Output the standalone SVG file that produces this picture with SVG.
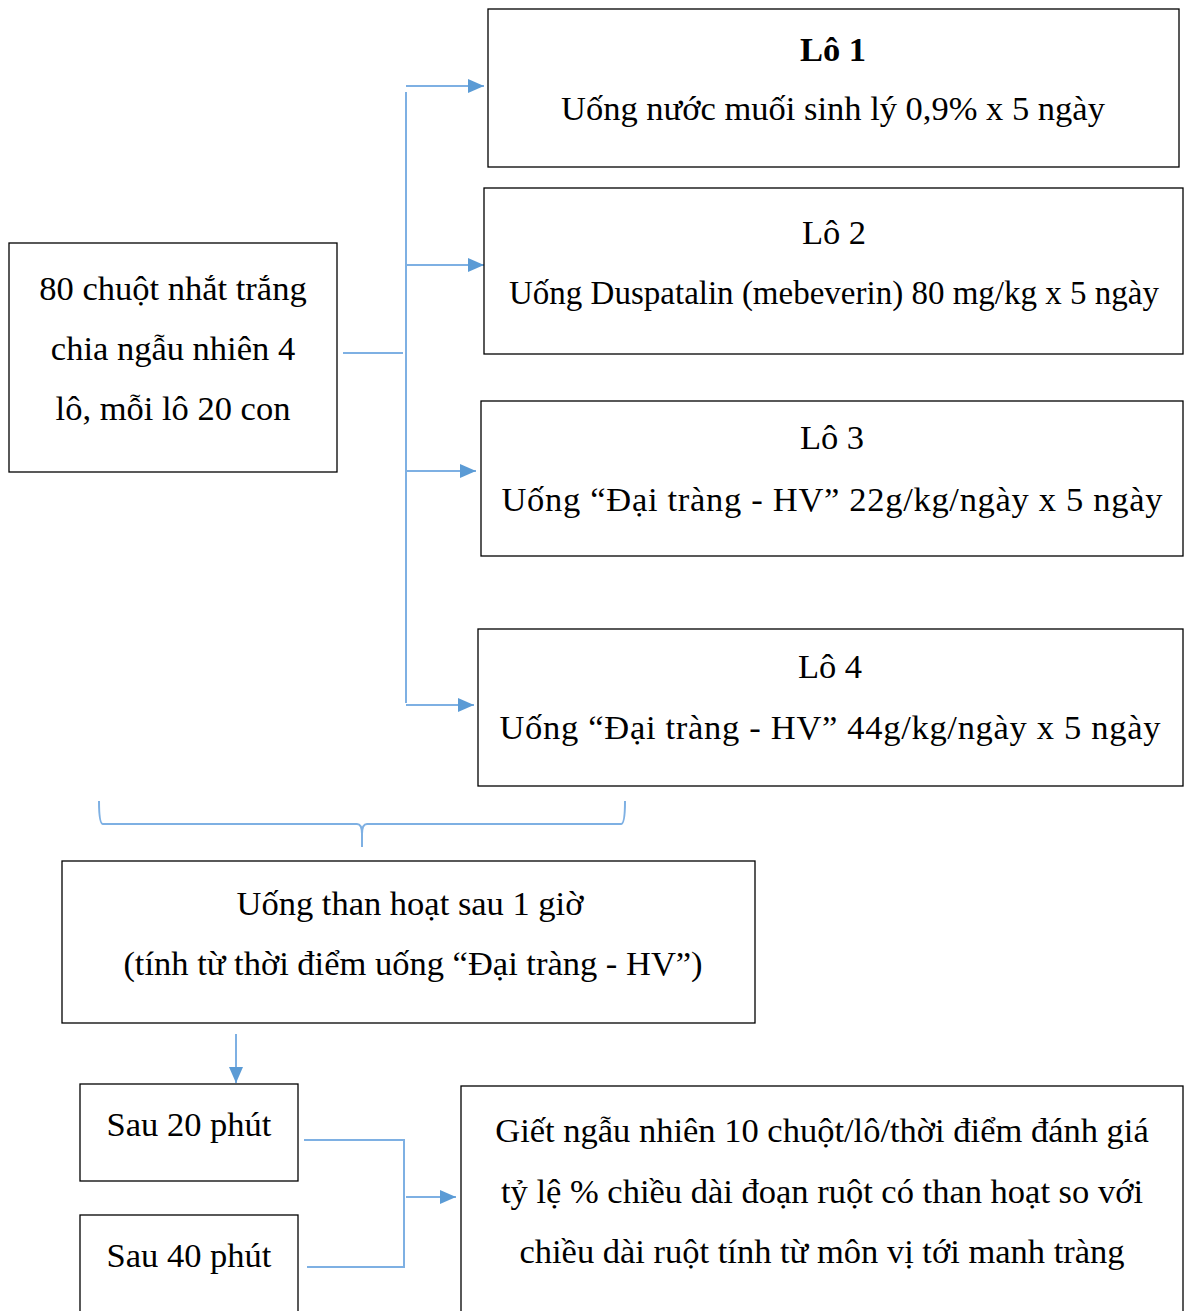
<svg xmlns="http://www.w3.org/2000/svg" width="1186" height="1311" viewBox="0 0 1186 1311">
<style>
.box{fill:#fff;stroke:#000;stroke-width:1.3}
.t{font-family:"Liberation Serif","Times New Roman",serif;font-size:34.5px;fill:#000;text-anchor:middle}
.b{font-weight:bold}
.c{fill:none;stroke:#7EB0E3;stroke-width:2}
</style>
<defs>
<marker id="ah" viewBox="0 0 16 14" refX="16" refY="7" markerWidth="16" markerHeight="14" markerUnits="userSpaceOnUse" orient="auto">
<path d="M0,0 L16,7 L0,14 z" fill="#5B9BD5"/>
</marker>
</defs>
<rect width="1186" height="1311" fill="#fff"/>
<g id="connectors">
<line class="c" x1="406" y1="92" x2="406" y2="703"/>
<line class="c" x1="406" y1="86" x2="484" y2="86" marker-end="url(#ah)"/>
<line class="c" x1="406" y1="265" x2="484" y2="265" marker-end="url(#ah)"/>
<line class="c" x1="406" y1="471" x2="476" y2="471" marker-end="url(#ah)"/>
<line class="c" x1="406" y1="705" x2="474" y2="705" marker-end="url(#ah)"/>
<line class="c" x1="343" y1="353" x2="403" y2="353"/>
<path class="c" d="M99,801 Q99,824 103,824 L357,824 Q362,824 362,834 L362,847 M362,834 Q362,824 367,824 L621,824 Q625,824 625,801"/>
<line class="c" x1="236" y1="1034" x2="236" y2="1083" marker-end="url(#ah)"/>
<polyline class="c" points="304,1140 404,1140 404,1267 307,1267"/>
<line class="c" x1="406" y1="1197" x2="456" y2="1197" marker-end="url(#ah)"/>
</g>
<g id="n-lo1"><rect class="box" x="488" y="9" width="691" height="158"/>
<text class="t b" x="833" y="61">Lô 1</text>
<text class="t" x="833" y="120">Uống nước muối sinh lý 0,9% x 5 ngày</text></g>
<g id="n-lo2"><rect class="box" x="484" y="188" width="699" height="166"/>
<text class="t" x="834" y="244">Lô 2</text>
<text class="t" x="834" y="304" textLength="650" lengthAdjust="spacingAndGlyphs" style="font-size:33px">Uống Duspatalin (mebeverin) 80 mg/kg x 5 ngày</text></g>
<g id="n-lo3"><rect class="box" x="481" y="401" width="702" height="155"/>
<text class="t" x="832" y="449">Lô 3</text>
<text class="t" x="832" y="511" textLength="661" lengthAdjust="spacing">Uống “Đại tràng - HV” 22g/kg/ngày x 5 ngày</text></g>
<g id="n-lo4"><rect class="box" x="478" y="629" width="705" height="157"/>
<text class="t" x="830" y="678">Lô 4</text>
<text class="t" x="830" y="739" textLength="661" lengthAdjust="spacing">Uống “Đại tràng - HV” 44g/kg/ngày x 5 ngày</text></g>
<g id="n-start"><rect class="box" x="9" y="243" width="328" height="229"/>
<text class="t" x="173" y="300">80 chuột nhắt trắng</text>
<text class="t" x="173" y="360">chia ngẫu nhiên 4</text>
<text class="t" x="173" y="420">lô, mỗi lô 20 con</text></g>
<g id="n-than"><rect class="box" x="62" y="861" width="693" height="162"/>
<text class="t" x="410" y="915">Uống than hoạt sau 1 giờ</text>
<text class="t" x="413" y="975">(tính từ thời điểm uống “Đại tràng - HV”)</text></g>
<g id="n-s20"><rect class="box" x="80" y="1084" width="218" height="97"/>
<text class="t" x="189" y="1136">Sau 20 phút</text></g>
<g id="n-s40"><rect class="box" x="80" y="1215" width="218" height="110"/>
<text class="t" x="189" y="1267">Sau 40 phút</text></g>
<g id="n-giet"><rect class="box" x="461" y="1086" width="722" height="240"/>
<text class="t" x="822" y="1142">Giết ngẫu nhiên 10 chuột/lô/thời điểm đánh giá</text>
<text class="t" x="822" y="1203">tỷ lệ % chiều dài đoạn ruột có than hoạt so với</text>
<text class="t" x="822" y="1263">chiều dài ruột tính từ môn vị tới manh tràng</text></g>
</svg>
